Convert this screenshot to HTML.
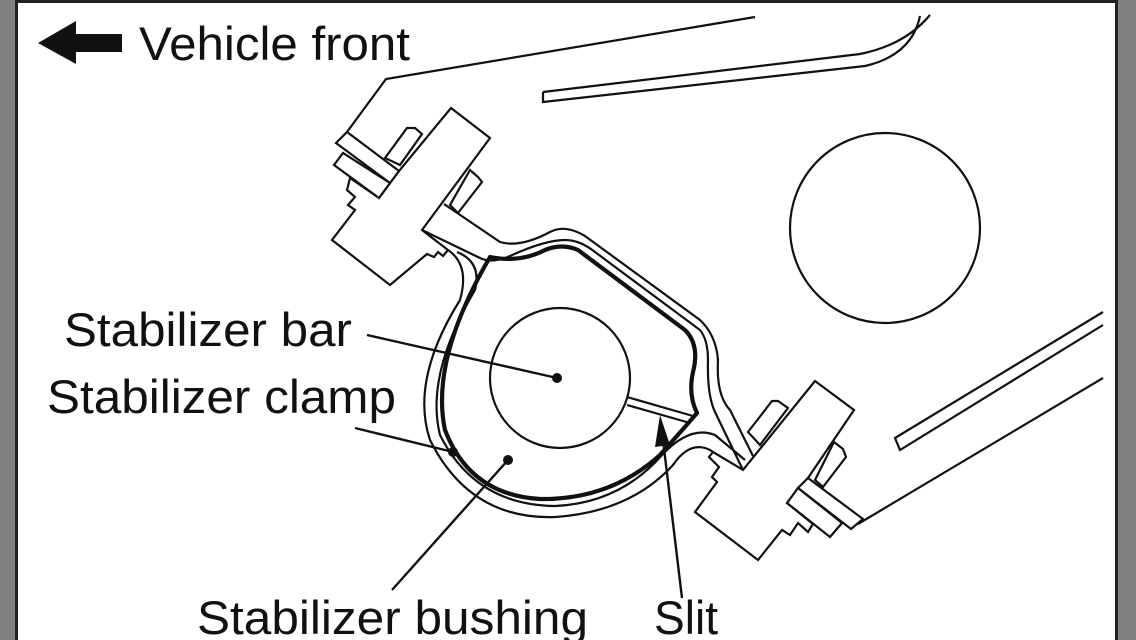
<!DOCTYPE html>
<html><head><meta charset="utf-8"><style>
html,body{margin:0;padding:0;background:#fff}
svg{display:block}
text{font-family:"Liberation Sans",Arial,sans-serif;fill:#111}
</style></head><body>
<svg width="1136" height="640" viewBox="0 0 1136 640" xmlns="http://www.w3.org/2000/svg">
<rect x="0" y="0" width="1136" height="640" fill="#fff"/>
<rect x="0" y="0" width="16" height="640" fill="#808080"/>
<rect x="15" y="0" width="3" height="640" fill="#222"/>
<rect x="1118" y="0" width="18" height="640" fill="#808080"/>
<rect x="1115" y="0" width="3" height="640" fill="#222"/>
<rect x="15" y="0" width="1103" height="3" fill="#222"/>

<polygon points="38,43 76,21 76,34 122,34 122,52 76,52 76,64" fill="#111"/>
<text x="139" y="60" font-size="47" textLength="271" lengthAdjust="spacingAndGlyphs">Vehicle front</text>

<g fill="none" stroke="#111" stroke-width="2.2" stroke-linejoin="miter">
<path d="M755,17 L386,79 L347,132"/>
<path d="M543,92 L860,54 Q905,45 930,15"/>
<path d="M543,92 L543,102 L865,66 Q912,55 920,16"/>
<circle cx="885" cy="228" r="95"/>
<path d="M1103,312 L895,438 L900,450 L1103,325"/>
<path d="M1103,378 L858,524"/>

<!-- upper-left bracket -->
<path fill="#fff" d="M385,158 L407,128 L415,128 L422,134 L400,165 Z"/>
<path fill="#fff" d="M470,170 L478,177 L482,182 L458,213 L450,205 Z"/>
<path fill="#fff" d="M451,108 L490,138 L422,230 L448,250 L443,256 L438,252 L434,257 L427,254 L390,285 L332,240 L355,210 L348,205 L355,197 L347,190 L350,178 L379,198 L399,171 Z"/>
<path fill="#fff" d="M336,143 L347,132 L399,171 L390,183 Z"/>
<path fill="#fff" d="M334,165 L343,153 L390,183 L379,198 Z"/>

<!-- lower-right bracket -->
<path fill="#fff" d="M748,432 L772,401 L778,401 L788,408 L760,445 Z"/>
<path fill="#fff" d="M834,442 L843,449 L846,457 L823,487 L815,480 Z"/>
<path fill="#fff" d="M815,381 L854,410 L808,478 L787,503 L813,524 L808,532 L798,523 L790,535 L782,530 L758,560 L695,512 L717,482 L712,477 L719,467 L709,457 L713,452 L743,470 Z"/>
<path fill="#fff" d="M808,478 L863,519 L851,529 L798,488 Z"/>
<path fill="#fff" d="M787,503 L798,488 L842,523 L830,537 Z"/>

<!-- clamp lines -->
<path d="M444,204 L500,242 Q520,248 550,232 Q565,224 585,236 L700,320 Q716,335 718,360 Q716,395 730,410 L753,456"/>
<path d="M422,230 L480,258 Q492,264 510,256 Q545,240 565,240 Q580,240 595,252 L700,330 Q708,340 708,360 Q707,395 715,412 L743,470"/>
<path d="M448,250 Q470,265 460,300 Q410,380 430,440 Q470,520 555,517 Q630,512 673,465 Q690,440 710,450 L713,452"/>
<path d="M457,252 Q482,262 475,290 Q425,375 440,435 Q475,505 555,506 Q620,503 662,455 Q690,425 715,435 L745,460"/>
<circle cx="560" cy="378" r="70"/>
<path d="M627,397 L693,416"/>
<path d="M627,405 L690,423"/>
</g>

<path fill="none" stroke="#111" stroke-width="4.2" stroke-linejoin="round" d="M490,257 Q520,263 545,250 Q562,243 578,250 L685,330 Q700,345 693,372 Q688,395 697,413 L684,428 L660,455 Q610,500 540,499 Q470,495 445,430 Q430,360 490,257 Z"/>

<g stroke="#111" stroke-width="2.4" fill="none">
<line x1="367" y1="335" x2="557" y2="378"/>
<line x1="355" y1="428" x2="453" y2="452"/>
<line x1="392" y1="590" x2="508" y2="460"/>
<line x1="682" y1="598" x2="663" y2="440"/>
</g>
<circle cx="557" cy="378" r="5" fill="#111"/>
<circle cx="453" cy="452" r="5" fill="#111"/>
<circle cx="508" cy="460" r="5" fill="#111"/>
<polygon points="660,415 670,445 655,447" fill="#111"/>

<text x="64" y="346" font-size="47" textLength="288" lengthAdjust="spacingAndGlyphs">Stabilizer bar</text>
<text x="47" y="413" font-size="47" textLength="349" lengthAdjust="spacingAndGlyphs">Stabilizer clamp</text>
<text x="197" y="634" font-size="47" textLength="391" lengthAdjust="spacingAndGlyphs">Stabilizer bushing</text>
<text x="654" y="634" font-size="47" textLength="64" lengthAdjust="spacingAndGlyphs">Slit</text>
</svg>
</body></html>
